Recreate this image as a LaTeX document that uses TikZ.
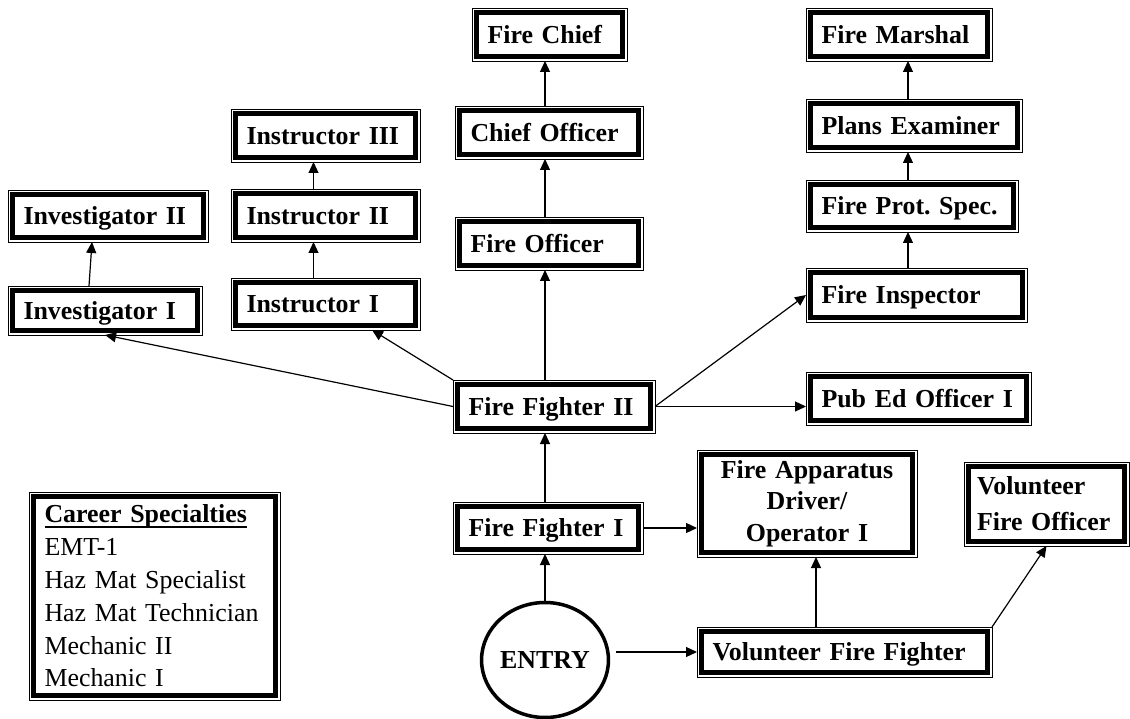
\documentclass[tikz,border=0pt]{standalone}
\usepackage{fontspec}
\setmainfont{Liberation Serif}
\usepackage{tikz}
\usetikzlibrary{arrows.meta,calc,shapes.geometric}
\frenchspacing

\newlength\headwd
\newcommand\headline[1]{\settowidth\headwd{#1}#1\llap{\rule[-5pt]{\headwd}{1.8pt}}}

\tikzset{
  framebox/.style={draw, line width=0.9pt, anchor=north west, outer sep=0pt,
    inner xsep=15.5pt, inner ysep=0pt,
    font=\fontsize{25.9}{31.5}\selectfont\bfseries,
    path picture={\draw[line width=4.6pt]
      ([shift={(4.7pt,-4.7pt)}]path picture bounding box.north west) rectangle
      ([shift={(-4.7pt,4.7pt)}]path picture bounding box.south east);}},
  rank/.style={framebox, align=left, minimum height=53pt,
    text height=18pt, text depth=0.5pt},
  link/.style={line width=1.2pt, -{Triangle[length=11pt,width=10pt]}},
}

\begin{document}
\begin{tikzpicture}[x=1pt,y=-1pt]
            \useasboundingbox (0,0) rectangle (1130,719);
            \node[rank, text width=124pt] (chief) at (472,8) {Fire Chief};
            \node[rank, text width=157pt] (chiefoff) at (455,106) {Chief Officer};
            \node[rank, text width=157pt] (fireoff) at (455,217) {Fire Officer};
            \node[rank, text width=158pt] (instIII) at (231,109) {Instructor III};
            \node[rank, text width=158pt] (instII) at (231,189) {Instructor II};
            \node[rank, text width=158pt, minimum height=52pt] (instI) at (231,278) {Instructor I};
            \node[rank, text width=169pt, minimum height=52pt] (invII) at (8,190) {Investigator II};
            \node[rank, text width=163pt, minimum height=49pt] (invI) at (8,286) {Investigator I};
            \node[rank, text width=155pt] (marshal) at (806,8) {Fire Marshal};
            \node[rank, text width=185pt] (plans) at (806,99) {Plans Examiner};
            \node[rank, text width=181pt, minimum height=52pt] (prot) at (806,180) {Fire Prot. Spec.};
            \node[rank, text width=190pt, minimum height=54pt] (inspector) at (806,268) {Fire Inspector};
            \node[rank, text width=171pt] (ff2) at (453,380) {Fire Fighter II};
            \node[rank, text width=194pt] (pubed) at (806,372) {Pub Ed Officer I};
            \node[rank, text width=159pt, minimum height=52pt] (ff1) at (453,502) {Fire Fighter I};
            \node[rank, text width=264pt, minimum height=50pt] (vff) at (697,627) {Volunteer Fire Fighter};
            \node[framebox, align=center, text width=189pt, minimum height=107pt] (apparatus) at (697,450)
                {Fire Apparatus\\Driver/\\Operator I};
            \node[framebox, align=left, inner xsep=13pt, text width=139pt, minimum height=84pt,
                font=\fontsize{25.9}{36}\selectfont\bfseries] (vfo) at (964,462) {Volunteer\\Fire Officer};
            \node[framebox, align=left, text width=220pt, minimum height=208pt,
                font=\fontsize{25.9}{32.8}\selectfont] (career) at (29,492)
                {{\bfseries\headline{Career Specialties}}\\EMT-1\\Haz Mat Specialist\\Haz Mat Technician\\Mechanic II\\Mechanic I};
            \node[ellipse, draw, line width=3.5pt, minimum width=123pt, minimum height=115pt, inner sep=0pt,
                font=\fontsize{25.9}{31.5}\selectfont\bfseries] (entry) at (545,660) {ENTRY};

            \draw[link] (entry) -- (entry |- ff1.south);
            \draw[link] ($(entry.east |- vff.west)+(6pt,0)$) -- (vff.west);
            \draw[link] (ff1.north -| entry) -- (ff2.south -| entry);
            \draw[link] (ff1.east) -- (ff1.east -| apparatus.west);
            \coordinate (vffup) at ([xshift=9pt]apparatus.south);
            \draw[link] (vffup |- vff.north) -- (vffup);
            \draw[link] (vff.north east) -- (vfo.south);
            \draw[link] (ff2.north -| entry) -- (fireoff.south -| entry);
            \draw[link] (fireoff.north -| entry) -- (chiefoff.south -| entry);
            \draw[link] (chiefoff.north -| entry) -- (chief.south -| entry);
            \draw[link] (ff2.north west) -- ([xshift=-48pt]instI.south east);
            \draw[link] (ff2.west) -- (invI.south);
            \draw[link] (ff2.east) -- (inspector.west);
            \draw[link] (ff2.east) -- (ff2.east -| pubed.west);
            \draw[link] ([xshift=-12pt]instI.north) -- ([xshift=-12pt]instII.south);
            \draw[link] ([xshift=-12pt]instII.north) -- ([xshift=-12pt]instIII.south);
            \draw[link] ([xshift=-16pt]invI.north) -- ([xshift=-16pt]invII.south);
            \coordinate (specx) at (908,0);
            \draw[link] (inspector.north -| specx) -- (prot.south -| specx);
            \draw[link] (prot.north -| specx) -- (plans.south -| specx);
            \draw[link] (plans.north -| specx) -- (marshal.south -| specx);
        \end{tikzpicture}
\end{document}
